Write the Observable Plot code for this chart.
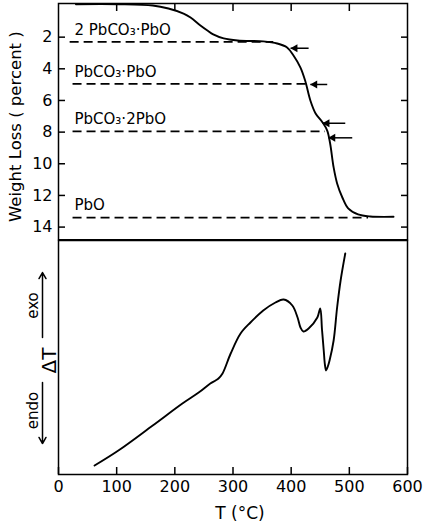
<!DOCTYPE html>
<html><head><meta charset="utf-8">
<script src="https://cdn.jsdelivr.net/npm/d3@7"></script>
<script src="https://cdn.jsdelivr.net/npm/@observablehq/plot@0.6"></script>
<style>body{margin:0;background:#fff;} #chart{width:430px;} #chart svg{display:block;}</style>
</head><body><div id="chart"></div>
<script>
// Thermogravimetric curve (weight loss %, vs T °C)
const tgaT    = [30, 103, 162, 189, 215, 227, 244, 256, 266, 284, 308, 352, 376, 393, 404, 416, 424, 433, 442, 454, 462, 467, 473, 479, 488, 498, 515, 536, 576];
const tgaLoss = [-0.08, -0.08, 0, 0.19, 0.51, 0.76, 1.26, 1.58, 1.83, 2.08, 2.21, 2.27, 2.40, 2.65, 3.16, 3.92, 4.74, 6.0, 6.82, 7.39, 7.9, 8.72, 10.23, 11.24, 12.13, 12.82, 13.2, 13.33, 13.35];
// DTA curve (arbitrary ΔT units)
const dtaT     = [62, 103, 162, 213, 241, 261, 270, 275, 282, 296, 313, 330, 352, 373, 387, 402, 411, 416, 421, 430, 445, 450, 453, 456, 458, 460, 463, 466, 473, 479, 485, 493];
const dtaDelta = [0.9, 2.4, 4.9, 7.1, 8.2, 9.1, 9.4, 9.6, 10.1, 12.1, 14.1, 15.2, 16.4, 17.2, 17.5, 16.9, 15.7, 14.7, 14.3, 14.6, 15.7, 16.6, 14.5, 12.4, 11.0, 10.4, 10.8, 11.4, 13.4, 16.7, 19.4, 22.1];
// theoretical compositions
const phaseNames = ["2 PbCO₃·PbO", "PbCO₃·PbO", "PbCO₃·2PbO", "PbO"];
const phaseLoss  = [2.3, 4.95, 7.95, 13.4];
const phaseFrom  = [20, 25, 25, 25];
const phaseTo    = [370, 430, 459, 533];
// arrows on the weight-loss curve
const arrowLoss = [2.70, 4.99, 7.44, 8.36];
const arrowFrom = [430, 462, 493, 505];
const arrowTo   = [399, 433, 454, 464];
// ticks
const lossTicks = [2, 4, 6, 8, 10, 12, 14];
const tempTicks = [0, 100, 200, 300, 400, 500, 600];
const innerTempTicks = [100, 200, 300, 400, 500];
// DTA side annotations
const signWords = ["exo", "endo"];
const signWordY = [16.9, 6.4];
const signArrowFrom = [13.7, 9.2];
const signArrowTo   = [20.2, 3.1];
const deltaLabelY = 11.4;

const tga = tgaT.map((t, i) => ({t, loss: tgaLoss[i]}));
const dta = dtaT.map((t, i) => ({t, d: dtaDelta[i]}));
const phases = phaseNames.map((name, i) => ({name, loss: phaseLoss[i], from: phaseFrom[i], to: phaseTo[i]}));
const arrows = arrowLoss.map((loss, i) => ({loss, from: arrowFrom[i], to: arrowTo[i]}));
const words = signWords.map((w, i) => ({w, y: signWordY[i]}));
const signArrows = signArrowFrom.map((a, i) => ({y1: a, y2: signArrowTo[i]}));

const font = {fontFamily: "DejaVu Sans, sans-serif", fontSize: "16px", color: "black", background: "white", overflow: "visible"};

const tgaPlot = Plot.plot({
  width: 430, height: 240,
  marginLeft: 58, marginRight: 23, marginTop: 3, marginBottom: 0.75,
  style: font,
  x: {domain: [0, 600], axis: null},
  y: {domain: [-0.126, 14.8], reverse: true, axis: null},
  marks: [
    Plot.axisY({anchor: "left", ticks: lossTicks, tickSize: -7, tickPadding: 13, label: null, fontSize: 16, strokeWidth: 1.5}),
    Plot.axisY({anchor: "right", ticks: lossTicks, tickSize: -7, tickFormat: () => "", label: null, strokeWidth: 1.5}),
    Plot.axisX({anchor: "top", ticks: innerTempTicks, tickSize: -7, tickFormat: () => "", label: null, strokeWidth: 1.5}),
    Plot.ruleY(phases, {y: "loss", x1: "from", x2: "to", stroke: "black", strokeWidth: 1.6, strokeDasharray: "9,5"}),
    Plot.text(phases, {y: "loss", text: "name", frameAnchor: "left", dx: 16, dy: -12, textAnchor: "start", fontSize: 15}),
    Plot.line(tga, {x: "t", y: "loss", stroke: "black", strokeWidth: 1.9, curve: "catmull-rom"}),
    Plot.link(arrows, {x1: "from", x2: "to", y1: "loss", y2: "loss", stroke: "black", strokeWidth: 1.5}),
    Plot.dot(arrows, {x: "to", y: "loss", symbol: "triangle", r: 3, rotate: -90, fill: "black", stroke: null, dx: 4.5}),
    Plot.text(["Weight Loss ( percent )"], {frameAnchor: "left", textAnchor: "middle", dx: -43, dy: 5, rotate: -90, fontSize: 16.5}),
    Plot.frame({stroke: "black", strokeWidth: 1.5})
  ]
});

const dtaPlot = Plot.plot({
  width: 430, height: 287,
  marginLeft: 58, marginRight: 23, marginTop: 0, marginBottom: 53,
  style: font,
  x: {domain: [0, 600], axis: null},
  y: {domain: [0, 23.4], axis: null},
  marks: [
    Plot.axisX({anchor: "bottom", ticks: tempTicks, tickSize: -7, tickPadding: 13, label: null, fontSize: 16, strokeWidth: 1.5}),
    Plot.line(dta, {x: "t", y: "d", stroke: "black", strokeWidth: 1.9, curve: "catmull-rom"}),
    Plot.text(words, {y: "y", text: "w", frameAnchor: "left", textAnchor: "middle", dx: -25, rotate: -90, fontSize: 15}),
    Plot.text(["ΔT"], {y: deltaLabelY, frameAnchor: "left", textAnchor: "middle", dx: -9, rotate: -90, fontSize: 20}),
    Plot.arrow(signArrows, {x1: 0, x2: 0, y1: "y1", y2: "y2", dx: -16, stroke: "black", strokeWidth: 1.5, headLength: 7}),
    Plot.text(["T (°C)"], {frameAnchor: "bottom", dy: 44, dx: 7, fontSize: 17}),
    Plot.frame({stroke: "black", strokeWidth: 1.5})
  ]
});

document.getElementById("chart").append(tgaPlot, dtaPlot);
</script>
</body></html>
